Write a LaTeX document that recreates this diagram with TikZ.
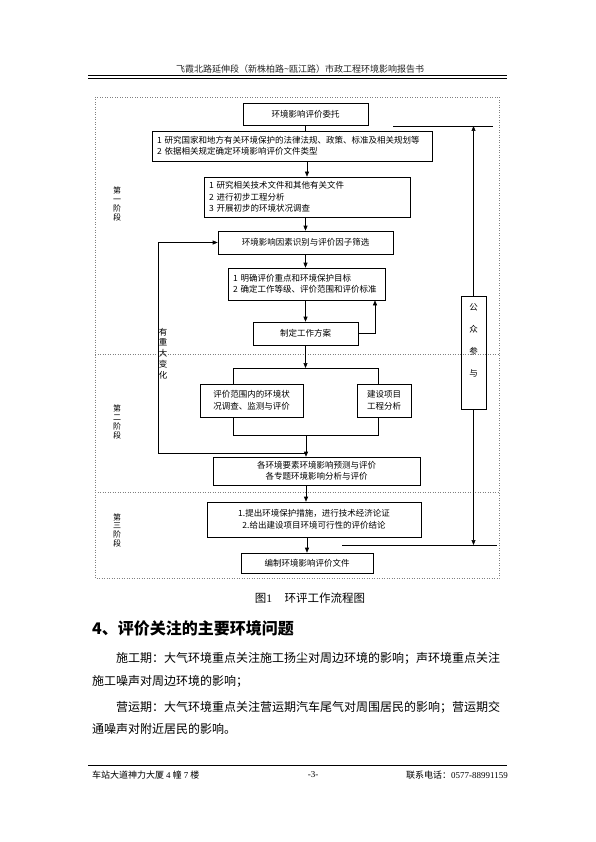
\documentclass[tikz,border=0pt]{standalone}
\usepackage{fontspec}
\setmainfont{Liberation Serif}
\newfontfamily\cjk{Noto Sans CJK SC}
\usetikzlibrary{arrows.meta}
\begin{document}
\begin{tikzpicture}[x=1pt,y=-1pt,
  box/.style={draw,line width=0.6pt,inner sep=0pt,font=\cjk\fontsize{8.5}{11.5}\selectfont,align=center},
  lbox/.style={box,align=left,inner xsep=5pt},
  link/.style={line width=0.6pt},
  arr/.style={link,-{Triangle[length=5pt,width=4pt]}},
  frame/.style={draw=gray,dotted,line width=0.5pt},
  stage/.style={font=\cjk\fontsize{8}{8.7}\selectfont,align=center,inner sep=0pt},
  txt/.style={font=\cjk\fontsize{12}{12}\selectfont,anchor=west,inner sep=0pt},
  small/.style={font=\cjk\fontsize{9}{9}\selectfont,inner sep=0pt}
]
\useasboundingbox (0,0) rectangle (595,842);
\fill[white] (0,0) rectangle (595,842);

% header
\node[small,text=black!85] (hdr) at (300,69) {飞霞北路延伸段（新株柏路\textasciitilde 瓯江路）市政工程环境影响报告书};
\coordinate (hl1) at (88,75.5); \coordinate (hr1) at (507,75.5);
\coordinate (hl2) at (88,78.5); \coordinate (hr2) at (507,78.5);
\draw[line width=0.5pt] (hl1) -- (hr1);
\draw[line width=1.6pt] (hl2) -- (hr2);

% frame and stage dividers
\draw[frame] (95,97) rectangle (499,578);
\coordinate (d1l) at (95,354); \coordinate (d1r) at (499,354);
\coordinate (d2l) at (95,492); \coordinate (d2r) at (499,492);
\draw[frame] (d1l) -- (d1r);
\draw[frame] (d2l) -- (d2r);

% stage labels
\node[stage] (s1) at (117,204) {第\\一\\阶\\段};
\node[stage] (s2) at (117,422) {第\\二\\阶\\段};
\node[stage] (s3) at (117,530) {第\\三\\阶\\段};

% boxes
\node[box,minimum width=125pt,minimum height=22pt] (b1) at (305.5,114) {环境影响评价委托};
\node[lbox,text width=270pt,minimum height=30pt] (b2) at (292,146) {1 研究国家和地方有关环境保护的法律法规、政策、标准及相关规划等\\2 依据相关规定确定环境影响评价文件类型};
\node[lbox,text width=196pt,minimum height=40pt] (b3) at (307,197) {1 研究相关技术文件和其他有关文件\\2 进行初步工程分析\\3 开展初步的环境状况调查};
\node[box,minimum width=175pt,minimum height=23pt] (b4) at (305.5,242.5) {环境影响因素识别与评价因子筛选};
\node[lbox,text width=147pt,minimum height=32pt] (b5) at (306.5,284) {1 明确评价重点和环境保护目标\\2 确定工作等级、评价范围和评价标准};
\node[box,minimum width=105pt,minimum height=23pt] (b6) at (305.5,333.5) {制定工作方案};
\node[box,minimum width=103pt,minimum height=33pt] (b7) at (251.5,400.5) {评价范围内的环境状\\况调查、监测与评价};
\node[box,minimum width=54pt,minimum height=33pt] (b8) at (384,400.5) {建设项目\\工程分析};
\node[box,minimum width=207pt,minimum height=28pt] (b9) at (316.5,471) {各环境要素环境影响预测与评价\\各专题环境影响分析与评价};
\node[box,minimum width=214pt,minimum height=35pt] (b10) at (314,519.5) {1.提出环境保护措施，进行技术经济论证\\2.给出建设项目环境可行性的评价结论};
\node[box,minimum width=132pt,minimum height=20pt] (b11) at (307,563) {编制环境影响评价文件};
\node[draw,line width=0.6pt,minimum width=25pt,minimum height=113pt,inner sep=0pt] (pub) at (473.5,352.5) {};
\node[font=\cjk\fontsize{8.5}{22}\selectfont,align=center,inner sep=0pt] (pubt) at (473.5,340) {公\\众\\参\\与};
\node[font=\cjk\fontsize{8.5}{10.8}\selectfont,align=center,inner sep=0pt] (chg) at (163,353.5) {有\\重\\大\\变\\化};

% main flow
\draw[link] (b1.south) -- (b1.south |- b2.north);
\draw[arr] (b3.north |- b2.south) -- (b3.north);
\draw[arr] (b4.north |- b3.south) -- (b4.north);
\draw[arr] (b4.south) -- (b4.south |- b5.north);
\draw[arr] (b6.north |- b5.south) -- (b6.north);
\coordinate (brk) at (306,368);
\draw[arr] (b6.south) -- (b6.south |- brk);
\coordinate (bl) at (233,368); \coordinate (br) at (378,368);
\draw[link] (bl |- b7.north) -- (bl) -- (br) -- (br |- b8.north);
\coordinate (jl) at (233,435); \coordinate (jr) at (378,435); \coordinate (jm) at (306,435);
\draw[link] (jl |- b7.south) -- (jl) -- (jr) -- (jr |- b8.south);
\draw[arr] (jm) -- (jm |- b9.north);
\draw[arr] (jm |- b9.south) -- (jm |- b10.north);
\draw[arr] (b11.north |- b10.south) -- (b11.north);

% feedback loops
\coordinate (fb) at (158,453);
\draw[arr] (jm |- fb) -- (fb) -- (fb |- b4.west) -- (b4.west);
\coordinate (lp) at (375,334);
\draw[arr] (b6.east) -- (lp |- b6.east) -- (lp |- b5.south);

% public participation
\coordinate (tl) at (393,126); \coordinate (tr) at (493,126);
\draw[link] (tl) -- (tr);
\draw[arr] (pub.north) -- (pub.north |- tl);
\coordinate (bl2) at (342,545); \coordinate (br2) at (497,545);
\draw[link] (bl2) -- (br2);
\draw[arr] (pub.south) -- (pub.south |- bl2);

% caption
\node[inner sep=0pt] (cap) at (310,598) {\cjk\fontsize{11.5}{12}\selectfont 图{\rmfamily 1}\hspace{1.1em}环评工作流程图};

% section text
\node[anchor=west,inner sep=0pt] (sec) at (92,628) {\cjk\bfseries\fontsize{16}{16}\selectfont 4、评价关注的主要环境问题};
\node[txt] (p1) at (116,658) {施工期：大气环境重点关注施工扬尘对周边环境的影响；声环境重点关注};
\node[txt] (p2) at (92,681) {施工噪声对周边环境的影响；};
\node[txt] (p3) at (116,707) {营运期：大气环境重点关注营运期汽车尾气对周围居民的影响；营运期交};
\node[txt] (p4) at (92,729) {通噪声对附近居民的影响。};

% footer
\coordinate (fl) at (88,765); \coordinate (fr) at (507,765);
\draw[line width=0.6pt] (fl) -- (fr);
\node[small,anchor=west] (f1) at (92,775) {车站大道神力大厦 {\rmfamily 4} 幢 {\rmfamily 7} 楼};
\node[small] (f2) at (313,775) {\rmfamily -3-};
\node[small,anchor=east] (f3) at (508,775) {联系电话：{\rmfamily 0577-88991159}};
\end{tikzpicture}
\end{document}
